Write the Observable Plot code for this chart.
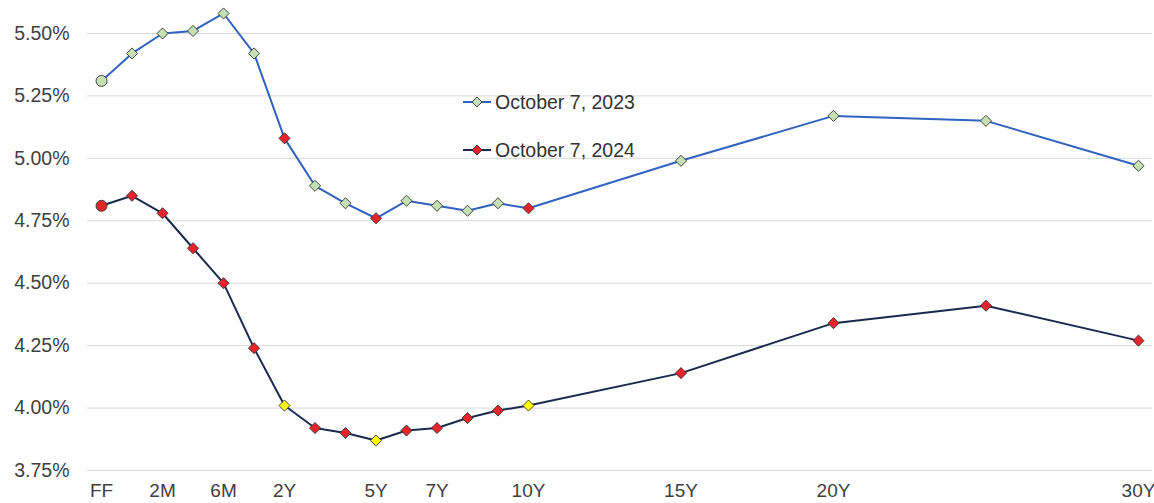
<!DOCTYPE html>
<html>
<head>
<meta charset="utf-8">
<script src="https://cdn.jsdelivr.net/npm/d3@7"></script>
<script src="https://cdn.jsdelivr.net/npm/@observablehq/plot@0.6"></script>
<style>
  html, body { margin: 0; padding: 0; background: #fff; }
  #wrap { position: relative; width: 1154px; height: 503px; overflow: hidden; font-family: "Liberation Sans", Arial, sans-serif; }
  #legend { position: absolute; left: 462px; top: 90px; font-size: 19.5px; color: #333; }
  #legend .row { display: flex; align-items: center; height: 24px; margin-bottom: 24px; }
  #legend svg { margin-right: 3px; }
</style>
</head>
<body>
<div id="wrap"></div>
<script>
// ---- data ----
const tenors = ["FF","1M","2M","3M","6M","1Y","2Y","3Y","4Y","5Y","6Y","7Y","8Y","9Y","10Y","15Y","20Y","25Y","30Y"];
const tenorPositions = [0,1,2,3,4,5,6,7,8,9,10,11,12,13,14,19,24,29,34];
const yields2023 = [5.31,5.42,5.50,5.51,5.58,5.42,5.08,4.89,4.82,4.76,4.83,4.81,4.79,4.82,4.80,4.99,5.17,5.15,4.97];
const yields2024 = [4.81,4.85,4.78,4.64,4.50,4.24,4.01,3.92,3.90,3.87,3.91,3.92,3.96,3.99,4.01,4.14,4.34,4.41,4.27];
const tickLabels = ["FF","2M","6M","2Y","5Y","7Y","10Y","15Y","20Y","30Y"];
const yTicks = [3.75,4.00,4.25,4.50,4.75,5.00,5.25,5.50];
const highlightTenors = ["2Y","5Y","10Y"];
const seriesNames = ["October 7, 2023","October 7, 2024"];

const style = {
  "October 7, 2023": {line: "#3162c0", fill: "#c5e0b3", hi: "#e8232b"},
  "October 7, 2024": {line: "#1c2a4e", fill: "#e8232b", hi: "#ffff00"}
};

const rows = [];
[[seriesNames[0], yields2023],[seriesNames[1], yields2024]].forEach(([name, vals]) => {
  vals.forEach((v, i) => rows.push({
    series: name, tenor: tenors[i], pos: tenorPositions[i], y: v,
    first: i === 0,
    fill: highlightTenors.includes(tenors[i]) ? style[name].hi : style[name].fill
  }));
});

const tickPos = tickLabels.map(t => tenorPositions[tenors.indexOf(t)]);

const marks = [
  Plot.gridY(yTicks, {stroke: "#d9d9d9", strokeOpacity: 1, strokeWidth: 1}),
  Plot.axisY(yTicks, {label: null, tickSize: 0, tickPadding: 18, tickFormat: d => d.toFixed(2) + "%", fontSize: 19.5, fill: "#404040"}),
  Plot.axisX(tickPos, {label: null, tickSize: 0, tickPadding: 13, tickFormat: p => tickLabels[tickPos.indexOf(p)], fontSize: 19, fill: "#404040"})
];
seriesNames.forEach(name => {
  const d = rows.filter(r => r.series === name);
  marks.push(Plot.line(d, {x: "pos", y: "y", stroke: style[name].line, strokeWidth: 2}));
  marks.push(Plot.dot(d.filter(r => !r.first), {x: "pos", y: "y", symbol: "diamond2", r: 5, fill: "fill", stroke: "#333", strokeWidth: 0.9}));
  marks.push(Plot.dot(d.filter(r => r.first), {x: "pos", y: "y", symbol: "circle", r: 5.5, fill: "fill", stroke: "#333", strokeWidth: 0.9}));
});

const chart = Plot.plot({
  width: 1154,
  height: 503,
  marginTop: 0,
  marginBottom: 33,
  marginLeft: 87,
  marginRight: 2,
  style: {fontFamily: "'Liberation Sans', Arial, sans-serif", background: "#fff", overflow: "hidden"},
  x: {domain: [-0.46, 34.46], axis: null},
  y: {domain: [3.75, 5.632], axis: null},
  color: {type: "identity"},
  marks
});

const wrap = document.getElementById("wrap");
wrap.appendChild(chart);

// legend
const legend = document.createElement("div");
legend.id = "legend";
seriesNames.forEach(name => {
  const row = document.createElement("div");
  row.className = "row";
  const s = style[name];
  row.innerHTML = `<svg width="30" height="14"><line x1="1" y1="7" x2="29" y2="7" stroke="${s.line}" stroke-width="2"/>` +
    `<path d="M15,2 L20,7 L15,12 L10,7 Z" fill="${s.fill}" stroke="#333" stroke-width="0.9"/></svg><span>${name}</span>`;
  legend.appendChild(row);
});
wrap.appendChild(legend);
</script>
</body>
</html>
